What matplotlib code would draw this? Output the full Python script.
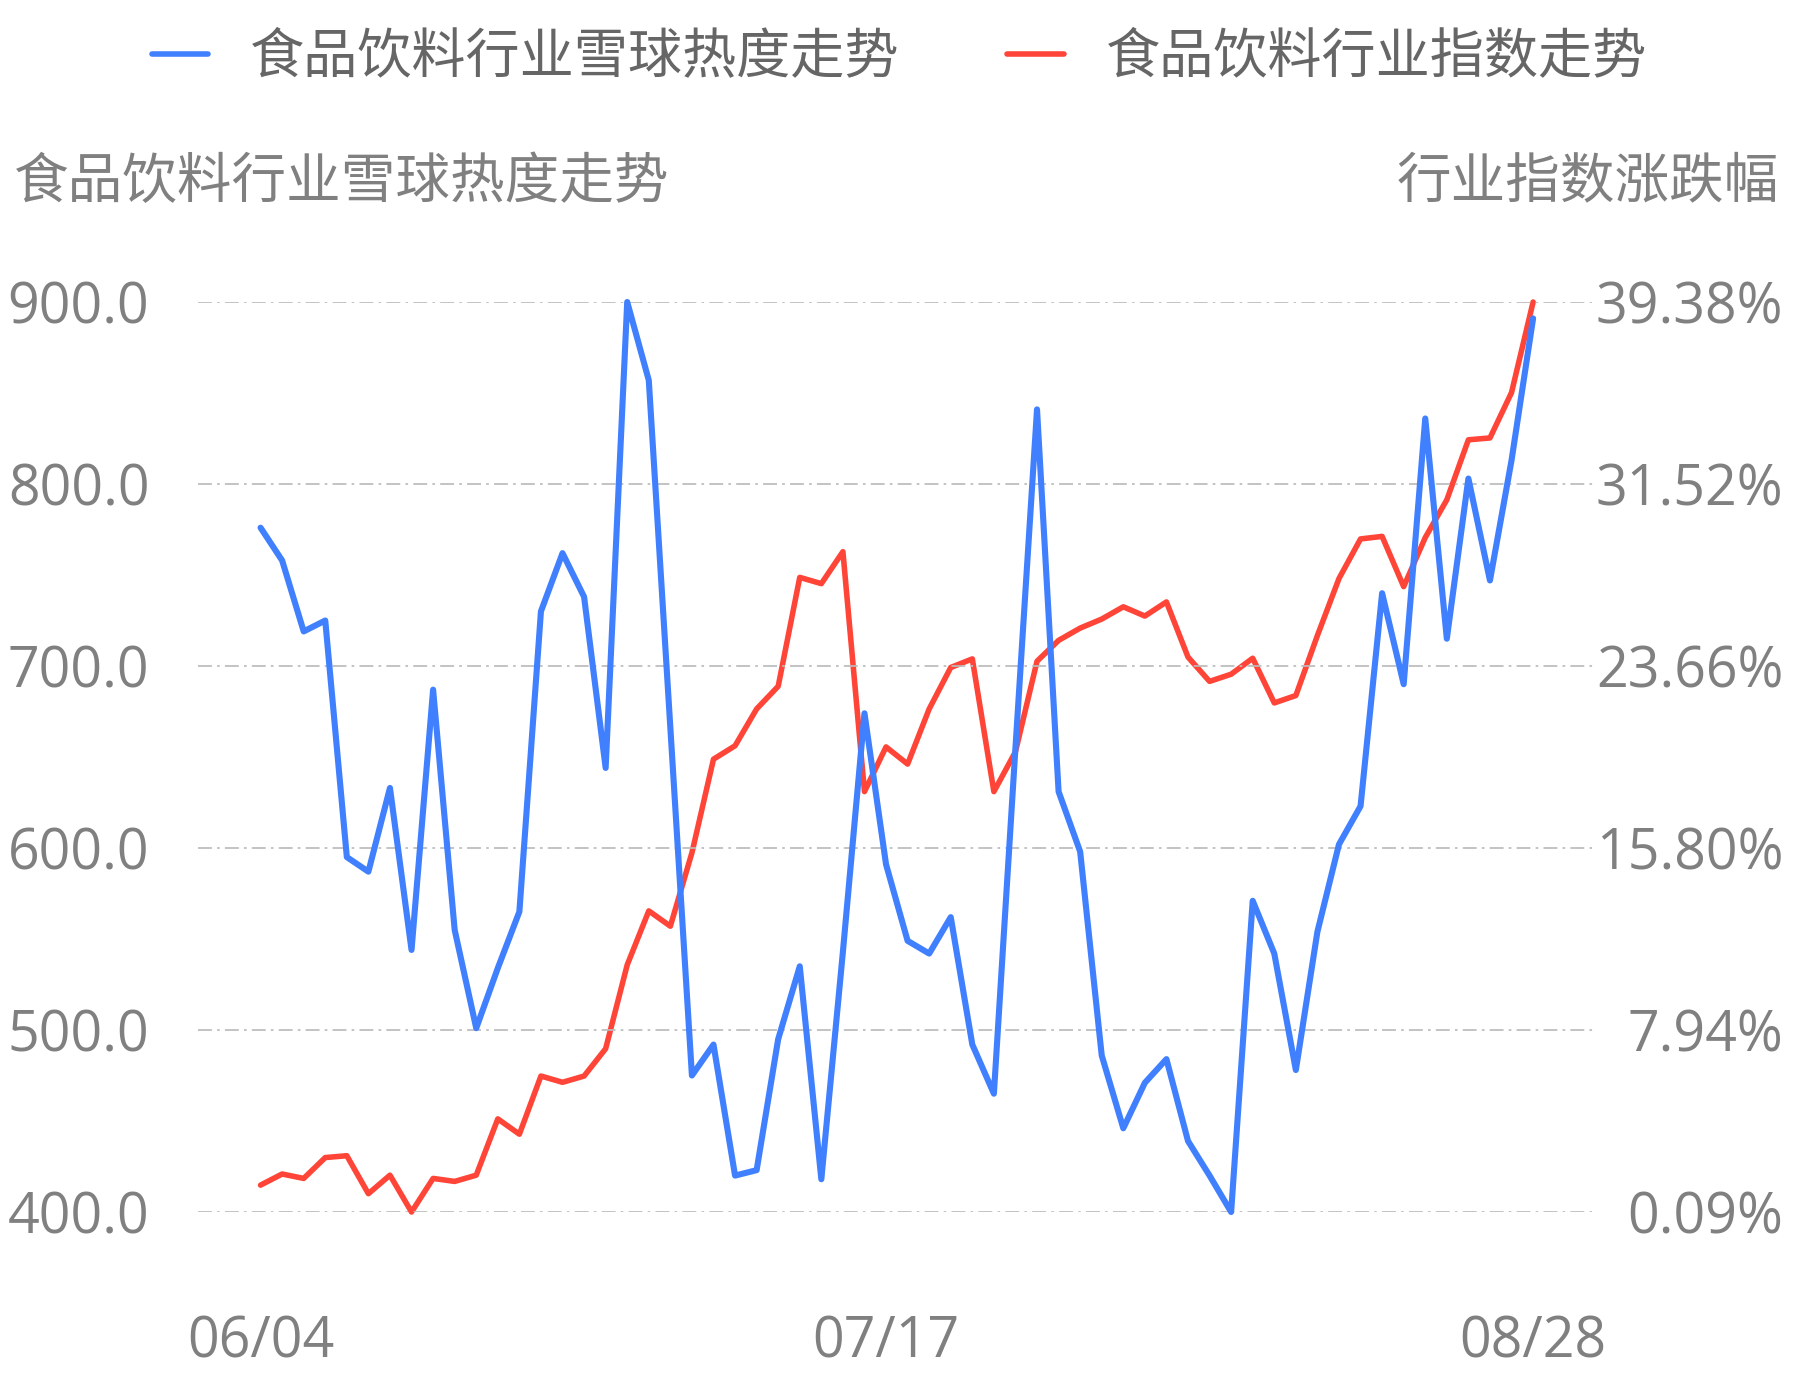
import matplotlib
matplotlib.use("Agg")
import matplotlib.pyplot as plt
import numpy as np

# ---------------- data ----------------
heat_label = "食品饮料行业雪球热度走势"
index_label = "食品饮料行业指数走势"
left_title = "食品饮料行业雪球热度走势"
right_title = "行业指数涨跌幅"

x_tick_pos = [0, 29, 59]
x_tick_labels = ["06/04", "07/17", "08/28"]

heat = [776, 758, 719, 725, 595, 587, 633, 544, 687, 555,
        501, 534, 565, 730, 762, 738, 644, 900, 857, 666,
        475, 492, 420, 423, 495, 535, 418, 543, 674, 591,
        549, 542, 562, 492, 465, 655, 841, 631, 598, 486,
        446, 471, 484, 439, 420, 400, 571, 542, 478, 554,
        602, 623, 740, 690, 836, 715, 803, 747, 813, 891]

index_pct = [1.25, 1.73, 1.54, 2.44, 2.52, 0.88, 1.68, 0.09, 1.54, 1.41,
             1.68, 4.11, 3.45, 5.96, 5.69, 5.96, 7.14, 10.76, 13.09, 12.43,
             15.60, 19.64, 20.22, 21.81, 22.79, 27.49, 27.22, 28.60, 18.24, 20.17,
             19.43, 21.81, 23.60, 23.97, 18.24, 19.96, 23.87, 24.77, 25.30, 25.69,
             26.22, 25.82, 26.43, 24.05, 23.00, 23.31, 24.00, 22.07, 22.39, 24.98,
             27.44, 29.15, 29.26, 27.09, 29.21, 30.84, 33.43, 33.51, 35.47, 39.38]

left_ticks = [400, 500, 600, 700, 800, 900]
left_tick_labels = ["400.0", "500.0", "600.0", "700.0", "800.0", "900.0"]
right_ticks = [0.09, 7.94, 15.80, 23.66, 31.52, 39.38]
right_tick_labels = ["0.09%", "7.94%", "15.80%", "23.66%", "31.52%", "39.38%"]

# ---------------- style ----------------
BLUE = "#4080FF"
RED = "#FF4538"
GRID = "#BBBBBB"
TICK_C = "#808080"
LEG_C = "#666666"
NUM_FONT = ["Open Sans", "Noto Sans CJK SC", "DejaVu Sans"]
CJK_FONT = ["Noto Sans CJK SC", "DejaVu Sans"]
CJK_SIZE = 39.3

W, H = 1793, 1380
fig = plt.figure(figsize=(W / 100, H / 100), dpi=100)

ax_l, ax_r = 198, 1595
ax_t, ax_b = 302, 1212
ax = fig.add_axes([ax_l / W, 1 - ax_b / H, (ax_r - ax_l) / W, (ax_b - ax_t) / H])
ax2 = ax.twinx()

x = np.arange(len(heat))

l2, = ax2.plot(x, index_pct, color=RED, lw=4.0, clip_on=False,
               solid_joinstyle="round", solid_capstyle="round")
l1, = ax.plot(x, heat, color=BLUE, lw=4.4, clip_on=False,
              solid_joinstyle="round", solid_capstyle="round")

ax.set_zorder(ax2.get_zorder() + 1)
ax.patch.set_visible(False)

ax.set_xlim(-2.9, 61.87)
ax.set_ylim(400, 900)
ax2.set_ylim(0.09, 39.38)

for a in (ax, ax2):
    for s in a.spines.values():
        s.set_visible(False)

ax.set_yticks(left_ticks)
ax.set_yticklabels(left_tick_labels)
ax2.set_yticks(right_ticks)
ax2.set_yticklabels(right_tick_labels)
ax.set_xticks(x_tick_pos)
ax.set_xticklabels(x_tick_labels)

ax.tick_params(axis="y", length=0, pad=35, labelsize=40, labelcolor=TICK_C)
ax.tick_params(axis="x", length=0, pad=74, labelsize=40, labelcolor=TICK_C)
ax2.tick_params(axis="y", length=0, pad=135.6, labelsize=40, labelcolor=TICK_C)
for t in ax.get_yticklabels() + ax.get_xticklabels():
    t.set_fontfamily(NUM_FONT)
for t in ax2.get_yticklabels():
    t.set_fontfamily(NUM_FONT)
    t.set_horizontalalignment("right")

ax.grid(axis="y", color=GRID, lw=1.25, linestyle=(0, (8, 3, 1.5, 3)))
ax.grid(axis="x", visible=False)
ax.set_axisbelow(True)

# axis titles
fig.text(14 / W, 1 - 182 / H, left_title, ha="left", va="center",
         fontsize=CJK_SIZE, color=TICK_C, family=CJK_FONT)
fig.text(1779 / W, 1 - 182 / H, right_title, ha="right", va="center",
         fontsize=CJK_SIZE, color=TICK_C, family=CJK_FONT)

leg = fig.legend(handles=[l1, l2], labels=[heat_label, index_label],
                 loc="center", bbox_to_anchor=(0.5015, 1 - 57 / H), ncol=2,
                 frameon=False, handlelength=1.05, handletextpad=0.76,
                 columnspacing=2.0, borderaxespad=0, borderpad=0,
                 prop={"family": CJK_FONT, "size": 39.0})
for t in leg.get_texts():
    t.set_color(LEG_C)
for h in leg.legend_handles:
    h.set_linewidth(4)
    h.set_solid_capstyle("round")

fig.savefig("out.png", dpi=100)
